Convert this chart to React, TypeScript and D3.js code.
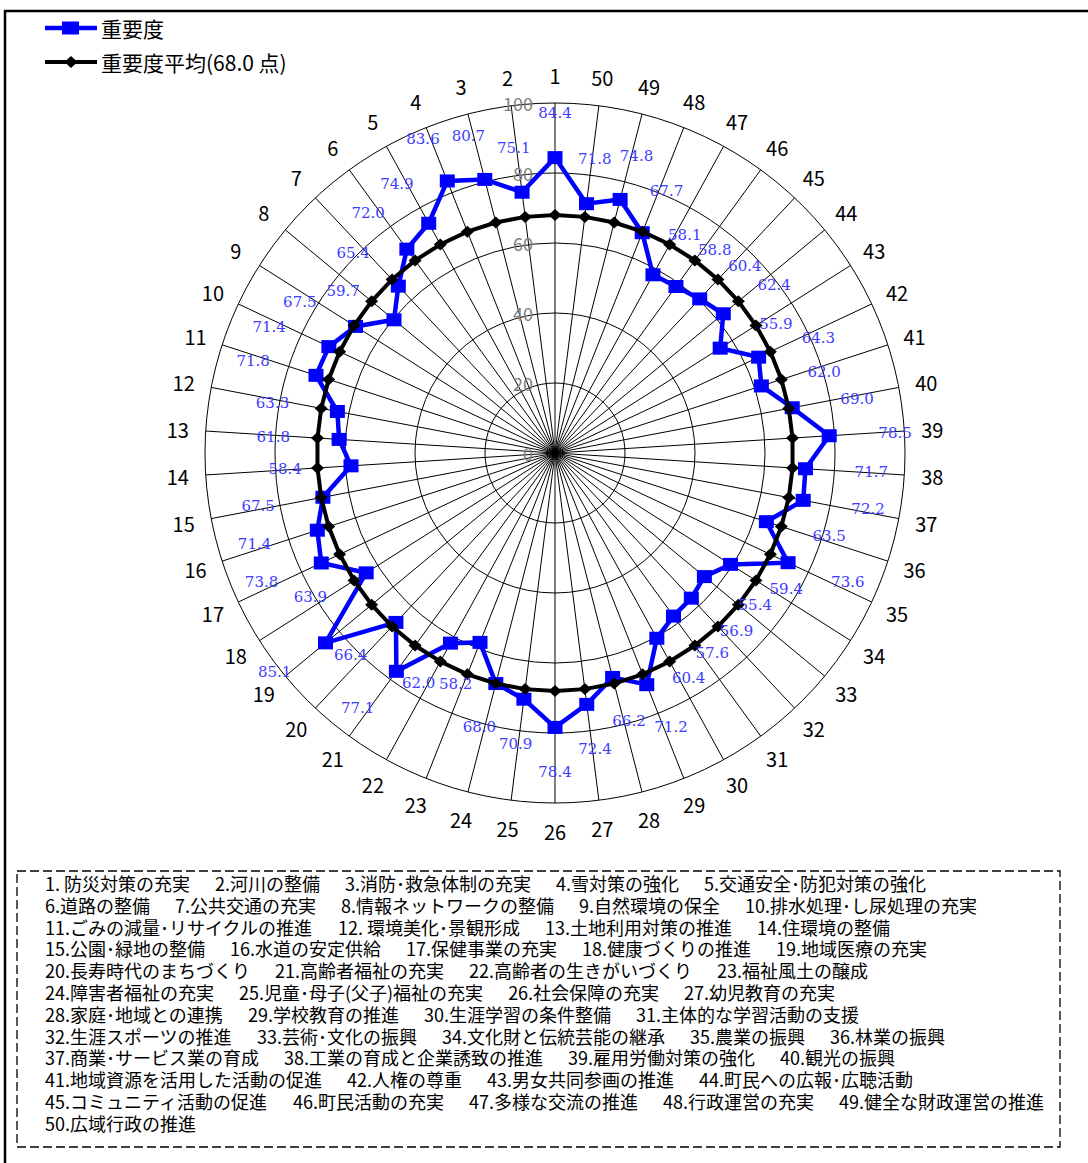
import React, { useMemo } from "react";
import * as d3 from "d3";

const categories: string[] = Array.from({ length: 50 }, (_, i) => String(i + 1));
const importance: number[] = [
  84.4, 75.1, 80.7, 83.6, 74.9, 72.0, 65.4, 59.7, 67.5, 71.4,
  71.8, 63.3, 61.8, 58.4, 67.5, 71.4, 73.8, 63.9, 85.1, 66.4,
  77.1, 62.0, 58.2, 68.0, 70.9, 78.4, 72.4, 66.2, 71.2, 60.4,
  57.6, 56.9, 55.4, 59.4, 73.6, 63.5, 72.2, 71.7, 78.5, 69.0,
  62.0, 64.3, 55.9, 62.4, 60.4, 58.8, 58.1, 67.7, 74.8, 71.8,
];
const averageValue = 68.0;
const average: number[] = categories.map(() => averageValue);
const ticks: number[] = [0, 20, 40, 60, 80, 100];
const seriesNames: string[] = ["重要度", "重要度平均(68.0 点)"];

const listLines: string[][] = [
  ["1. 防災対策の充実", "2.河川の整備", "3.消防･救急体制の充実", "4.雪対策の強化", "5.交通安全･防犯対策の強化"],
  ["6.道路の整備", "7.公共交通の充実", "8.情報ネットワークの整備", "9.自然環境の保全", "10.排水処理･し尿処理の充実"],
  ["11.ごみの減量･リサイクルの推進", "12. 環境美化･景観形成", "13.土地利用対策の推進", "14.住環境の整備"],
  ["15.公園･緑地の整備", "16.水道の安定供給", "17.保健事業の充実", "18.健康づくりの推進", "19.地域医療の充実"],
  ["20.長寿時代のまちづくり", "21.高齢者福祉の充実", "22.高齢者の生きがいづくり", "23.福祉風土の醸成"],
  ["24.障害者福祉の充実", "25.児童･母子(父子)福祉の充実", "26.社会保障の充実", "27.幼児教育の充実"],
  ["28.家庭･地域との連携", "29.学校教育の推進", "30.生涯学習の条件整備", "31.主体的な学習活動の支援"],
  ["32.生涯スポーツの推進", "33.芸術･文化の振興", "34.文化財と伝統芸能の継承", "35.農業の振興", "36.林業の振興"],
  ["37.商業･サービス業の育成", "38.工業の育成と企業誘致の推進", "39.雇用労働対策の強化", "40.観光の振興"],
  ["41.地域資源を活用した活動の促進", "42.人権の尊重", "43.男女共同参画の推進", "44.町民への広報･広聴活動"],
  ["45.コミュニティ活動の促進", "46.町民活動の充実", "47.多様な交流の推進", "48.行政運営の充実", "49.健全な財政運営の推進"],
  ["50.広域行政の推進"],
];

const W = 1088;
const H = 1163;
const CX = 555;
const CY = 453;
const R = 350;
const JP = "'Noto Sans CJK JP', 'Noto Sans', sans-serif";
const BLUE = "#0000ff";
const LIST_FONT = 18;
const LIST_GAP = 25;

function measureFactory() {
  let ctx: CanvasRenderingContext2D | null = null;
  try {
    const c = document.createElement("canvas");
    ctx = c.getContext("2d");
    if (ctx) ctx.font = `${LIST_FONT}px 'Noto Sans CJK JP'`;
  } catch (e) {
    ctx = null;
  }
  return (s: string) => (ctx ? ctx.measureText(s).width : s.length * LIST_FONT * 0.9);
}

export default function App() {
  const r = d3.scaleLinear().domain([0, 100]).range([0, R]);
  const ang = d3
    .scaleLinear()
    .domain([0, categories.length])
    .range([0, -2 * Math.PI]);
  const pos = (i: number, v: number) => {
    const a = ang(i);
    return [CX + Math.sin(a) * r(v), CY - Math.cos(a) * r(v)];
  };
  const line = d3
    .lineRadial<number>()
    .angle((_, i) => ang(i))
    .radius((d) => r(d))
    .curve(d3.curveLinearClosed);

  const listLayout = useMemo(() => {
    const measure = measureFactory();
    return listLines.map((items) => {
      let x = 45;
      return items.map((s) => {
        const item = { s, x };
        x += measure(s) + LIST_GAP;
        return item;
      });
    });
  }, []);

  return (
    <svg
      width={W}
      height={H}
      style={{ position: "absolute", left: 0, top: 0, background: "#fff" }}
    >
      <rect x={0} y={0} width={W} height={H} fill="#fff" />
      <path d={`M5,${H} L5,11 L${W},11`} fill="none" stroke="#000" strokeWidth={2.5} />

      {/* grid */}
      {ticks.filter((t) => t > 0).map((t) => (
        <circle key={t} cx={CX} cy={CY} r={r(t)} fill="none" stroke="#000" strokeWidth={1} />
      ))}
      {categories.map((c, i) => {
        const [x, y] = pos(i, 100);
        return <line key={c} x1={CX} y1={CY} x2={x} y2={y} stroke="#000" strokeWidth={1} />;
      })}
      {ticks.map((t) => (
        <text
          key={t}
          x={CX - 22}
          y={CY - r(t)}
          textAnchor="end"
          dominantBaseline="central"
          fontFamily={JP}
          fontSize={18}
          fill="#808080"
        >
          {t}
        </text>
      ))}
      {categories.map((c, i) => {
        const [x, y] = pos(i, 108);
        return (
          <text
            key={c}
            x={x}
            y={y}
            textAnchor="middle"
            dominantBaseline="central"
            fontFamily={JP}
            fontSize={20}
            fill="#000"
          >
            {c}
          </text>
        );
      })}

      {/* importance series */}
      <g transform={`translate(${CX},${CY})`}>
        <path d={line(importance) || ""} fill="none" stroke={BLUE} strokeWidth={4.5} strokeLinejoin="miter" />
      </g>
      {importance.map((v, i) => {
        const [x, y] = pos(i, v);
        return <rect key={i} x={x - 7.5} y={y - 6.5} width={15} height={13} fill={BLUE} />;
      })}

      {/* average series */}
      <g transform={`translate(${CX},${CY})`}>
        <path d={line(average) || ""} fill="none" stroke="#000" strokeWidth={4} />
      </g>
      {average.map((v, i) => {
        const [x, y] = pos(i, v);
        return (
          <path
            key={i}
            d={`M${x},${y - 6} L${x + 6.5},${y} L${x},${y + 6} L${x - 6.5},${y} Z`}
            fill="#000"
          />
        );
      })}

      {/* data labels */}
      {importance.map((v, i) => {
        const [x, y] = pos(i, v);
        const a = ang(i);
        const lx = x + Math.sin(a) * 66;
        const ly = y - Math.cos(a) * 45;
        return (
          <text
            key={i}
            x={lx}
            y={ly}
            textAnchor="middle"
            dominantBaseline="central"
            fontFamily="'DejaVu Serif', serif"
            fontSize={15}
            fill="#3c3cff"
          >
            {v.toFixed(1)}
          </text>
        );
      })}

      {/* legend */}
      <line x1={45} y1={28} x2={97} y2={28} stroke={BLUE} strokeWidth={4.5} />
      <rect x={62} y={21.5} width={17} height={13} fill={BLUE} />
      <text x={101} y={28} dominantBaseline="central" fontFamily={JP} fontSize={21}>
        {seriesNames[0]}
      </text>
      <line x1={45} y1={62} x2={97} y2={62} stroke="#000" strokeWidth={4} />
      <path d="M71,56 L77.5,62 L71,68 L64.5,62 Z" fill="#000" />
      <text x={101} y={62} dominantBaseline="central" fontFamily={JP} fontSize={21}>
        {seriesNames[1]}
      </text>

      {/* item list box */}
      <rect
        x={17}
        y={871}
        width={1043}
        height={276}
        fill="none"
        stroke="#000"
        strokeWidth={1.3}
        strokeDasharray="9,4"
      />
      {listLayout.map((items, li) =>
        items.map((it, k) => (
          <text
            key={`${li}-${k}`}
            x={it.x}
            y={883 + li * 21.8}
            dominantBaseline="central"
            fontFamily={JP}
            fontSize={LIST_FONT}
            fill="#000"
          >
            {it.s}
          </text>
        ))
      )}
    </svg>
  );
}
